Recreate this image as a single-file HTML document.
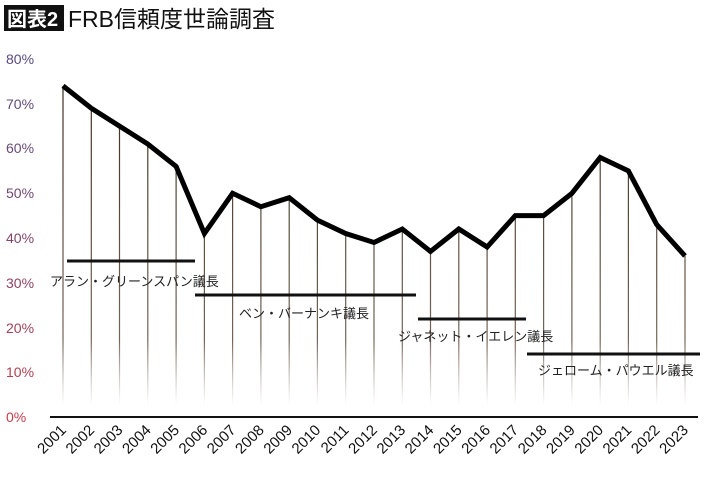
<!DOCTYPE html>
<html><head><meta charset="utf-8"><style>
body{margin:0;background:#fff;width:710px;height:477px;overflow:hidden}
svg{display:block}
text{font-family:"Liberation Sans","Noto Sans CJK JP",sans-serif}
</style></head><body>
<svg width="710" height="477" viewBox="0 0 710 477">
<defs>
<linearGradient id="g" gradientUnits="userSpaceOnUse" x1="0" y1="80" x2="0" y2="405">
<stop offset="0" stop-color="#3a2a1a"/><stop offset="0.8" stop-color="#5a4a3a" stop-opacity="0.85"/><stop offset="1" stop-color="#8a7a6a" stop-opacity="0"/>
</linearGradient>
</defs>
<rect x="4" y="5" width="60" height="26" fill="#111"/>
<text x="7" y="26" font-size="20" fill="#fff" font-weight="bold">図表2</text>
<text x="68" y="27" font-size="23" fill="#111">FRB信頼度世論調査</text>
<g font-size="14" text-anchor="start">
<text x="6" y="64" fill="#5a4a80">80%</text>
<text x="6" y="109" fill="#604a7c">70%</text>
<text x="6" y="153" fill="#684a78">60%</text>
<text x="6" y="198" fill="#704872">50%</text>
<text x="6" y="243" fill="#80466a">40%</text>
<text x="6" y="288" fill="#904460">30%</text>
<text x="6" y="333" fill="#a04258">20%</text>
<text x="6" y="377" fill="#b04050">10%</text>
<text x="6" y="422" fill="#c83c48">0%</text>
</g>
<g stroke="url(#g)" stroke-width="1.2">
<line x1="63" y1="86" x2="63" y2="417"/><line x1="91.3" y1="108" x2="91.3" y2="417"/><line x1="119.5" y1="126" x2="119.5" y2="417"/><line x1="147.8" y1="144" x2="147.8" y2="417"/><line x1="176.1" y1="166" x2="176.1" y2="417"/><line x1="204.4" y1="233" x2="204.4" y2="417"/><line x1="232.6" y1="193" x2="232.6" y2="417"/><line x1="260.9" y1="207" x2="260.9" y2="417"/><line x1="289.2" y1="198" x2="289.2" y2="417"/><line x1="317.4" y1="220" x2="317.4" y2="417"/><line x1="345.7" y1="233" x2="345.7" y2="417"/><line x1="374" y1="242" x2="374" y2="417"/><line x1="402.3" y1="229" x2="402.3" y2="417"/><line x1="430.5" y1="251" x2="430.5" y2="417"/><line x1="458.8" y1="229" x2="458.8" y2="417"/><line x1="487.1" y1="247" x2="487.1" y2="417"/><line x1="515.3" y1="216" x2="515.3" y2="417"/><line x1="543.6" y1="216" x2="543.6" y2="417"/><line x1="571.9" y1="193" x2="571.9" y2="417"/><line x1="600.2" y1="157" x2="600.2" y2="417"/><line x1="628.4" y1="171" x2="628.4" y2="417"/><line x1="656.7" y1="225" x2="656.7" y2="417"/><line x1="685" y1="256" x2="685" y2="417"/>
</g>
<line x1="50" y1="417" x2="698" y2="417" stroke="#111" stroke-width="2"/>
<polyline fill="none" stroke="#000" stroke-width="5" stroke-linejoin="miter" points="63,85.9 91.3,108.2 119.5,126.1 147.8,144 176.1,166.4 204.4,233.5 232.6,193.3 260.9,206.7 289.2,197.7 317.4,220.1 345.7,233.5 374,242.5 402.3,229 430.5,251.4 458.8,229 487.1,247 515.3,215.6 543.6,215.6 571.9,193.3 600.2,157.5 628.4,170.9 656.7,224.6 685,255.9"/>
<g stroke="#111" stroke-width="3">
<line x1="67" y1="261" x2="195" y2="261"/>
<line x1="195" y1="295" x2="416" y2="295"/>
<line x1="418" y1="319" x2="526" y2="319"/>
<line x1="527" y1="354" x2="700" y2="354"/>
</g>
<g font-size="13" fill="#222">
<text x="50" y="286">アラン・グリーンスパン議長</text>
<text x="239" y="318">ベン・バーナンキ議長</text>
<text x="398" y="341">ジャネット・イエレン議長</text>
<text x="538" y="375">ジェローム・パウエル議長</text>
</g>
<g font-size="15" fill="#111" text-anchor="end">
<text transform="translate(67,431) rotate(-45)">2001</text>
<text transform="translate(95.3,431) rotate(-45)">2002</text>
<text transform="translate(123.5,431) rotate(-45)">2003</text>
<text transform="translate(151.8,431) rotate(-45)">2004</text>
<text transform="translate(180.1,431) rotate(-45)">2005</text>
<text transform="translate(208.4,431) rotate(-45)">2006</text>
<text transform="translate(236.6,431) rotate(-45)">2007</text>
<text transform="translate(264.9,431) rotate(-45)">2008</text>
<text transform="translate(293.2,431) rotate(-45)">2009</text>
<text transform="translate(321.4,431) rotate(-45)">2010</text>
<text transform="translate(349.7,431) rotate(-45)">2011</text>
<text transform="translate(378,431) rotate(-45)">2012</text>
<text transform="translate(406.3,431) rotate(-45)">2013</text>
<text transform="translate(434.5,431) rotate(-45)">2014</text>
<text transform="translate(462.8,431) rotate(-45)">2015</text>
<text transform="translate(491.1,431) rotate(-45)">2016</text>
<text transform="translate(519.3,431) rotate(-45)">2017</text>
<text transform="translate(547.6,431) rotate(-45)">2018</text>
<text transform="translate(575.9,431) rotate(-45)">2019</text>
<text transform="translate(604.2,431) rotate(-45)">2020</text>
<text transform="translate(632.4,431) rotate(-45)">2021</text>
<text transform="translate(660.7,431) rotate(-45)">2022</text>
<text transform="translate(689,431) rotate(-45)">2023</text>
</g>
</svg>
</body></html>
